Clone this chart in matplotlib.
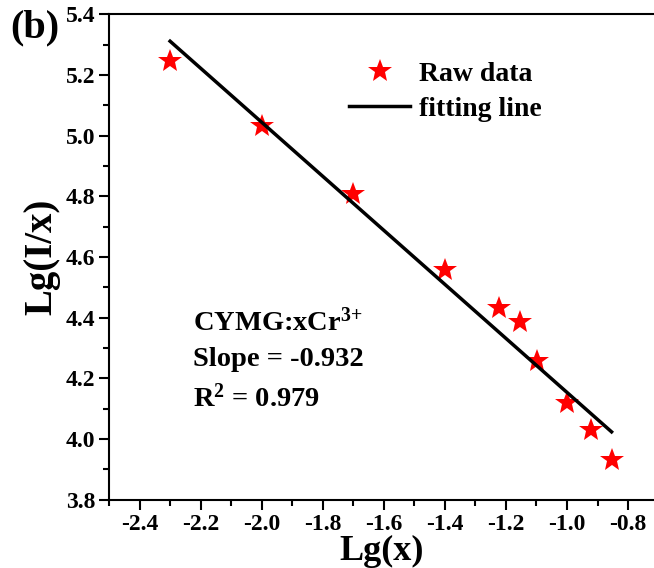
import numpy as np
import matplotlib
matplotlib.use('Agg')
import matplotlib.pyplot as plt
from matplotlib.ticker import MultipleLocator

# data
lg_x = [-2.30, -2.00, -1.70, -1.40, -1.222, -1.155, -1.097, -1.00, -0.921, -0.854]
lg_ix = [5.245, 5.031, 4.807, 4.557, 4.432, 4.386, 4.258, 4.119, 4.030, 3.932]
fit_x = [-2.30, -0.854]
fit_y = [5.311, 4.024]

plt.rcParams['font.family'] = 'Liberation Serif'
plt.rcParams['font.weight'] = 'bold'
plt.rcParams['mathtext.fontset'] = 'custom'
plt.rcParams['mathtext.rm'] = 'Liberation Serif:bold'
plt.rcParams['mathtext.it'] = 'Liberation Serif:bold'
plt.rcParams['mathtext.bf'] = 'Liberation Serif:bold'

fig = plt.figure(figsize=(6.54, 5.68), dpi=100)
ax = fig.add_axes([0.1667, 0.12, 0.8333, 0.855])

ax.plot(lg_x, lg_ix, linestyle='none', marker='*', color='red', ms=18,
        markeredgewidth=0, label='Raw data')
ax.plot(fit_x, fit_y, color='black', lw=2.5, label='fitting line')

ax.set_xlim(-2.5, -0.715)
ax.set_ylim(3.8, 5.4)
ax.xaxis.set_major_locator(MultipleLocator(0.2))
ax.xaxis.set_minor_locator(MultipleLocator(0.1))
ax.yaxis.set_major_locator(MultipleLocator(0.2))
ax.yaxis.set_minor_locator(MultipleLocator(0.1))
ax.xaxis.set_major_formatter(plt.FuncFormatter(lambda v, p: '%.1f' % v))
ax.yaxis.set_major_formatter(plt.FuncFormatter(lambda v, p: '%.1f' % v))

ax.spines['right'].set_visible(False)
for s in ['left', 'bottom', 'top']:
    ax.spines[s].set_linewidth(1.5)
ax.tick_params(which='major', direction='out', length=7, width=1.5, labelsize=17, pad=3)
ax.tick_params(which='minor', direction='out', length=4, width=1.5)
ax.tick_params(top=False, right=False)

ax.set_xlabel('Lg(x)', fontsize=26, fontweight='bold', labelpad=0)
ax.set_ylabel('Lg(I/x)', fontsize=28, fontweight='bold', labelpad=4)

ax.text(0.155, 0.365, 'CYMG:xCr$^{3{+}}$', transform=ax.transAxes, fontsize=20.5, va='center')
ax.text(0.155, 0.29, 'Slope = -0.932', transform=ax.transAxes, fontsize=20.5, va='center')
ax.text(0.155, 0.21, 'R$^{2}$ = 0.979', transform=ax.transAxes, fontsize=20.5, va='center')

ax.legend(loc='upper left', bbox_to_anchor=(0.395, 0.954), frameon=False,
          fontsize=20, handlelength=2.2, handletextpad=0.3, labelspacing=0.35)

fig.text(0.015, 0.95, '(b)', fontsize=29, fontweight='bold', va='center')

fig.savefig('out.png', dpi=100)
